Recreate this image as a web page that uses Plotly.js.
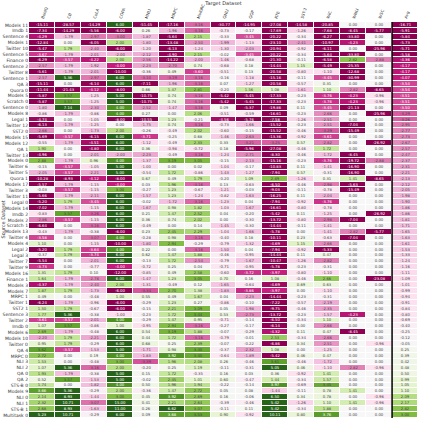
<!DOCTYPE html>
<html><head><meta charset="utf-8">
<script src="https://cdn.plot.ly/plotly-3.0.1.min.js"></script>
<style>html,body{margin:0;padding:0;background:#fff}#chart{width:423px;height:423px}</style>
</head><body><div id="chart"></div>
<script>
const sources = ["Models 11","Imdb 1","Sentence 4","Models 1","Twitter 10","Sentence 5","Finance 0","Sentence 2","Twitter 8","Sentence 1","QA 3","Quora 0","Models 5","Scratch 0","Sentence 0","Models 8","Legal 1","Twitter 12","SST2 0","Models 15","Models 12","QA 1","Twitter 13","Models 0","Twitter 6","Twitter 5","Quora 1","Models 17","Twitter 3","Twitter 11","Legal 0","Models 14","Imdb 2","Models 2","Scratch 1","Models 13","Twitter 4","Models 4","Legal 2","Legal 3","Twitter 7","Twitter 9","Models 16","Finance 1","Models 3","Models 7","MRPC 1","Twitter 1","SST2 1","Sentence 3","Twitter 2","Imdb 0","Models 6","Models 10","Twitter 0","QA 4","MRPC 0","NLI 3","NLI 2","QA 0","QA 2","STS-B 0","Models 9","NLI 0","NLI 1","STS-B 1","Multitask 0"];
const targets = ["BoolQ","CB","CoLA","COPA","MNLI","MRPC","MultiRC","QNLI","QQP","RTE","SST-2","WiC","WNLI","WSC","Avg"];

const boolq = [-15.11,-7.34,-4.29,-12.84,-5.47,-3.67,-6.29,-2.57,-5.61,-2.57,-15.11,-11.44,-5.87,-5.87,-1.80,-0.86,-4.74,-6.13,-2.66,-5.69,-0.55,1.90,-4.96,2.88,-0.15,-2.05,-10.28,-5.57,-0.03,-5.66,-5.20,-7.02,-0.83,-2.86,-6.64,-0.43,-3.58,1.10,-5.20,-0.37,-5.54,-3.73,1.31,1.64,-4.37,1.87,0.49,-6.24,1.50,1.77,-3.61,1.07,2.69,-2.20,0.95,3.62,2.72,1.53,1.07,1.93,0.52,1.74,3.66,2.14,2.32,2.68,5.23];
const cb = [-28.57,-14.29,-1.79,0.00,1.79,-1.79,-3.57,-1.79,-1.79,5.36,0.00,-21.43,3.57,3.57,7.14,-1.79,0.00,-1.79,0.00,-3.57,-1.79,0.00,0.00,-1.79,-3.57,-3.57,-8.93,-1.79,-3.57,-1.79,1.79,-1.79,3.57,-3.57,0.00,-1.79,0.00,0.00,1.79,1.79,0.00,0.00,1.79,-1.79,-1.79,1.79,0.00,-1.79,1.79,5.36,-3.57,3.57,-1.79,1.79,1.79,-3.57,0.00,0.00,5.36,-1.79,3.57,0.00,5.36,8.93,10.71,8.93,10.71];
const cola = [-14.29,-5.56,-2.97,-6.05,-2.40,-2.01,-4.22,-1.92,-2.01,-2.97,-6.14,-4.12,-1.25,-1.25,-2.30,-0.86,-1.05,-1.25,-1.73,-6.15,-4.51,-4.80,-2.01,0.96,-1.05,-2.21,-4.12,-1.15,-1.15,-2.11,-3.45,-1.15,-3.26,-1.15,-3.16,-0.38,-3.07,-1.15,-3.64,-3.74,-2.01,-0.77,0.10,-2.78,-2.40,-1.73,-0.48,-0.96,-0.67,-0.38,-2.01,-0.86,-0.48,-2.21,-0.29,-1.53,0.19,-0.48,-3.16,-0.38,-1.53,-1.82,-0.29,-1.44,-3.07,-1.63,-0.29];
const copa = [6,-6,-3,2,-6,-2,2,-4,-10,6,6,-8,5,5,4,4,-8,0,2,6,6,6,-2,4,5,5,-8,-4,3,6,6,6,6,6,6,-6,4,-10,4,6,6,-4,-12,6,2,-6,1,-6,-6,-1,4,1,6,6,6,5,4,3,2,5,5,4,2,3,15,11,6];
const mnli = [-51.45,0.26,-1.87,-1.80,-1.20,-2.12,-2.56,-2.23,-0.36,-3.10,-7.11,0.66,-10.75,-10.75,-2.52,0.27,-10.55,-1.75,-0.26,-3.71,-1.12,0.36,-2.23,-1.37,-1.00,-0.54,0.67,0.03,-0.27,-1.57,-0.02,-1.67,0.21,0.36,-0.49,0.23,-0.28,-1.80,0.22,0.62,-0.13,-0.72,-0.85,-1.47,-1.31,-3.34,0.55,-0.29,-0.15,-0.23,-0.29,-0.95,0.54,0.44,0.68,-1.71,-1.83,-3.39,-0.20,0.15,-0.02,0.50,-0.36,0.45,0.41,0.26,0.09];
const mrpc = [-17.16,-1.96,-5.64,-13.48,-6.13,-4.90,-14.22,-2.70,0.49,-3.19,-1.96,1.47,0.74,0.74,-1.47,0.00,1.23,0.74,-0.49,-0.25,-0.49,-0.98,-0.49,3.19,0.00,1.72,0.49,1.96,1.23,1.23,-1.72,0.98,1.47,0.74,0.00,2.45,0.98,2.94,0.00,1.47,1.72,0.25,0.49,1.23,-0.49,2.70,0.49,1.23,2.21,1.72,1.47,2.94,3.19,1.72,0.25,0.98,3.92,1.96,0.25,1.72,2.45,1.96,1.47,3.92,2.21,6.62,3.68];
const multirc = [-3.16,-3.16,2.15,-2.50,-1.24,2.15,-2.00,0.74,-3.60,-3.16,-3.16,2.81,-3.16,-3.16,-3.16,2.06,-0.21,-3.16,2.02,0.68,2.33,-0.72,-3.16,3.05,0.02,-0.86,1.79,-3.16,-0.67,-1.24,-3.16,1.82,2.52,2.02,0.14,2.29,-3.16,-0.29,-3.16,1.88,-2.54,0.04,2.58,3.05,0.12,1.38,1.67,0.27,3.09,3.44,0.95,-3.16,1.88,-3.16,2.39,3.40,3.40,2.08,1.19,-0.35,1.01,1.94,2.72,2.69,2.64,3.07,3.53];
const qnli = [-30.77,-0.73,-0.33,-1.99,-1.30,-0.02,-1.46,-0.68,-0.51,-0.16,0.07,-0.20,-5.42,-5.42,0.09,-0.51,-4.56,-0.73,-0.60,-1.46,0.33,0.18,-1.24,-0.15,-1.04,-1.43,-0.20,0.13,-1.21,-0.82,-1.23,-1.03,0.04,0.00,-1.45,-1.04,-0.40,-0.79,-1.50,-0.46,-0.79,-0.71,-0.60,0.70,-1.65,-1.83,0.04,-0.86,0.05,0.53,-0.71,-0.27,-0.07,-0.79,-0.07,-0.37,-0.64,0.26,-0.11,0.16,0.60,-0.22,0.05,0.16,-0.39,-0.11,0.90];
const qqp = [-14.95,-0.17,-3.45,-1.13,-2.03,-3.45,-0.68,0.18,0.13,-1.18,-1.27,1.56,-5.45,-5.45,-5.37,-0.59,-5.76,-1.66,-0.15,-2.63,-3.21,-5.96,-2.71,-2.13,-0.17,-1.27,1.09,-0.63,-0.03,-1.63,0.04,-1.67,-0.20,-0.30,-0.30,-1.66,0.18,-1.32,0.04,-0.95,-1.67,-0.95,-3.72,0.16,-0.64,-3.86,-2.23,-0.10,-1.98,-2.73,-0.14,-0.17,-0.29,-0.01,-0.22,-2.32,-1.89,-0.46,-0.31,0.03,-0.47,-0.14,0.08,-0.06,-0.46,0.11,-0.92];
const rte = [-27.08,-17.69,-20.22,-23.10,-20.94,-20.22,-21.30,-14.44,-20.58,-15.16,-20.58,1.08,-17.33,-17.33,-19.86,-16.61,-7.58,-15.52,-15.52,-13.36,-3.25,-27.08,-8.30,-15.16,-10.83,-7.94,2.89,-6.50,-9.03,-16.25,-7.94,-16.61,-5.42,-13.72,-14.44,-5.78,-10.11,-4.69,-7.94,-14.44,-10.47,-5.78,-3.97,1.08,-4.69,-3.97,-14.44,-7.22,-9.75,-13.72,-6.50,-6.14,-4.32,2.53,-6.86,1.08,-5.42,3.61,5.05,0.36,1.44,3.97,-1.44,6.50,5.42,5.42,10.11];
const sst2 = [-14.58,-1.26,-0.34,-2.41,-0.92,-0.34,-0.11,1.15,-0.80,-0.11,-0.57,-1.61,-0.23,-0.23,0.11,-0.23,-1.26,-0.23,-0.46,-0.92,0.57,-0.46,-0.46,-0.23,0.11,0.57,-1.26,-0.46,-0.11,0.11,-0.92,-0.80,0.11,-0.80,-0.11,0.00,0.23,1.15,-0.92,0.11,-1.26,-0.23,-0.80,-0.46,0.69,0.00,-0.23,-0.57,-0.46,-0.23,-0.34,0.00,0.11,-0.34,0.34,0.00,0.46,-0.46,0.46,-0.92,-0.34,-0.69,-0.11,0.34,-1.26,-0.34,0.80];
const wic = [-20.85,-7.68,-6.27,-10.97,-6.11,-5.64,-6.58,-5.49,-1.10,-3.45,0.31,1.10,-3.76,-3.76,-3.45,-2.66,-2.51,-2.51,-3.29,-3.61,-2.82,1.72,-1.72,-3.76,-1.41,-0.31,0.31,-2.98,-0.78,-2.04,-3.76,-0.78,-1.25,-2.98,-1.41,-1.41,-0.63,-2.66,-5.33,0.47,-2.82,-0.31,-1.10,2.66,0.63,-1.10,-0.31,-2.19,-2.35,-1.57,1.10,-2.66,0.47,-2.66,-2.51,-1.25,0.47,-1.72,-1.10,1.41,1.57,3.45,0.78,0.78,1.10,1.88,3.76];
const wnli = [0,-8.45,-33.80,-4.23,0,-33.80,2.82,-25.35,-12.68,-30.99,0,-2.82,-4.23,-4.23,-21.13,0,0,-7.04,-15.49,0,0,0,-8.45,-19.72,-16.90,-16.90,1.41,-5.63,-15.49,0,0,0,0,-7.04,0,-2.82,-7.04,0,0,0,0,0,0,0,0,0,0,0,0,-4.23,0,0,-8.45,0,0,0,0,0,-2.82,0,0,0,1.41,0,1.41,0,0];
const wsc = [0,-5.77,0,0,-25.96,0,-2.88,0,0,0,0,-8.65,-0.96,-0.96,0,-25.96,0,0,0,0,-26.92,0,0,-2.88,0,0,-8.65,0,0,0,0,0,-26.92,0,0,-5.77,0,0,0,0,0,0,0,-23.08,0,0,0,0,0,0,0,0,0,0,-0.96,0,0,0,-0.96,0,0,0,0,-0.96,-0.96,0,0];
const avg = [-16.71,-5.91,-5.84,-5.73,-5.71,-5.58,-4.36,-4.17,-4.17,-4.07,-3.54,-3.54,-3.51,-3.51,-3.50,-3.29,-3.26,-2.95,-2.77,-2.73,-2.67,-2.57,-2.47,-2.37,-2.31,-2.21,-2.13,-2.12,-2.05,-1.98,-1.90,-1.86,-1.86,-1.81,-1.71,-1.65,-1.63,-1.61,-1.53,-1.33,-1.24,-1.16,-1.11,-1.09,-1.01,-0.99,-0.94,-0.91,-0.84,-0.80,-0.69,-0.40,-0.25,-0.12,-0.05,0.25,0.39,0.42,0.48,0.50,0.99,1.05,1.10,2.09,2.17,2.82,3.00];

const columns = [boolq,cb,cola,copa,mnli,mrpc,multirc,qnli,qqp,rte,sst2,wic,wnli,wsc,avg];
const z = sources.map((_, i) => columns.map(c => c[i]));
const txt = z.map(r => r.map(v => v.toFixed(2)));

const piyg = [[0,'#8e0152'],[0.1,'#c51b7d'],[0.2,'#de77ae'],[0.3,'#f1b6da'],[0.4,'#fde0ef'],[0.5,'#f7f7f7'],[0.6,'#e6f5d0'],[0.7,'#b8e186'],[0.8,'#7fbc41'],[0.9,'#4d9221'],[1,'#276419']];

const trace = {
  type:'heatmap', z:z, x:targets, y:sources, colorscale:piyg, zmin:-5, zmax:5,
  showscale:false, xgap:1, ygap:1, text:txt, texttemplate:'%{text}',
  textfont:{size:3.8, family:'DejaVu Sans'}, hoverinfo:'skip'
};
const layout = {
  width:423, height:423, margin:{l:29, r:5, t:22, b:5},
  paper_bgcolor:'#fff', plot_bgcolor:'#fff',
  font:{family:'DejaVu Sans', color:'#333'},
  xaxis:{side:'top', tickangle:-70, tickfont:{size:4}, ticks:'', showgrid:false, zeroline:false, automargin:false,
         title:{text:'Target Dataset', font:{size:5}, standoff:2}},
  yaxis:{autorange:'reversed', tickfont:{size:4.5}, ticks:'', showgrid:false, zeroline:false, automargin:false, ticklen:0},
  annotations:[{text:'Source Dataset', xref:'paper', yref:'paper', x:-0.068, y:0.5, xanchor:'center', yanchor:'middle', textangle:-90, showarrow:false, font:{size:5}}],
  shapes:[{type:'line', xref:'x', yref:'paper', x0:13.5, x1:13.5, y0:0, y1:1, line:{color:'#000', width:1.5}}]
};
Plotly.newPlot('chart', [trace], layout, {staticPlot:true, displayModeBar:false});
</script></body></html>
